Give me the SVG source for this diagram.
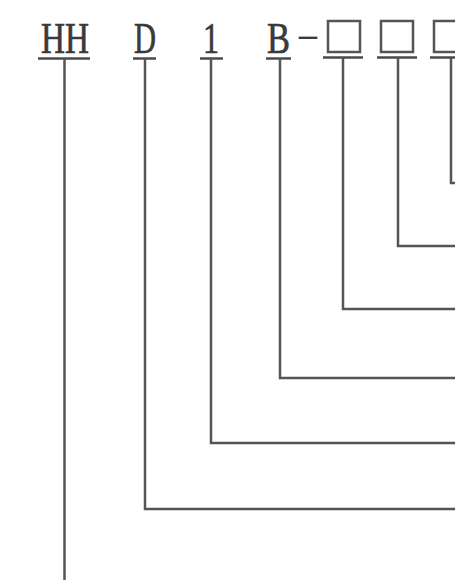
<svg xmlns="http://www.w3.org/2000/svg" width="455" height="580" viewBox="0 0 455 580">
<style>
.t{font-family:"Liberation Serif","Times New Roman",serif;font-size:45px;fill:#3a3a3a;stroke:#3a3a3a;stroke-width:0.7}
.u{stroke:#4a4a4a;stroke-width:2.5;fill:none}
.c{stroke:#555;stroke-width:2.5;fill:none;stroke-linejoin:miter}
.b{stroke:#555;stroke-width:2.5;fill:none}
</style>
<rect width="455" height="580" fill="#fff"/>
<g id="node-HH">
<text class="t" x="41" y="53" textLength="48" lengthAdjust="spacingAndGlyphs">HH</text>
<line class="u" x1="38" y1="58.5" x2="90" y2="58.5"/>
</g>
<g id="node-D">
<text class="t" x="134" y="53" textLength="22" lengthAdjust="spacingAndGlyphs">D</text>
<line class="u" x1="133" y1="58.5" x2="156" y2="58.5"/>
</g>
<g id="node-1">
<text class="t" x="203" y="53" textLength="16" lengthAdjust="spacingAndGlyphs">1</text>
<line class="u" x1="200" y1="58.5" x2="223" y2="58.5"/>
</g>
<g id="node-B">
<text class="t"><tspan x="267" y="53" textLength="23" lengthAdjust="spacingAndGlyphs">B</tspan><tspan x="296" y="45" font-size="32" stroke-width="0" textLength="24" lengthAdjust="spacingAndGlyphs">-</tspan></text>
<line class="u" x1="266" y1="58.5" x2="291" y2="58.5"/>
</g>
<g id="node-box1">
<rect class="b" x="328" y="21" width="32" height="31"/>
<line class="u" x1="323" y1="57.5" x2="363" y2="57.5"/>
</g>
<g id="node-box2">
<rect class="b" x="381" y="21" width="32" height="31"/>
<line class="u" x1="377" y1="57.5" x2="417" y2="57.5"/>
</g>
<g id="node-box3">
<rect class="b" x="434" y="21" width="32" height="31"/>
<line class="u" x1="430" y1="57.5" x2="470" y2="57.5"/>
</g>
<g id="connectors">
<path class="c" d="M64.5 58 V580"/>
<path class="c" d="M145 58 V509 H455"/>
<path class="c" d="M211 58 V443 H455"/>
<path class="c" d="M280 58 V378 H455"/>
<path class="c" d="M343 58 V309 H455"/>
<path class="c" d="M398 58 V246 H455"/>
<path class="c" d="M451 58 V183 H455"/>
</g>
</svg>
